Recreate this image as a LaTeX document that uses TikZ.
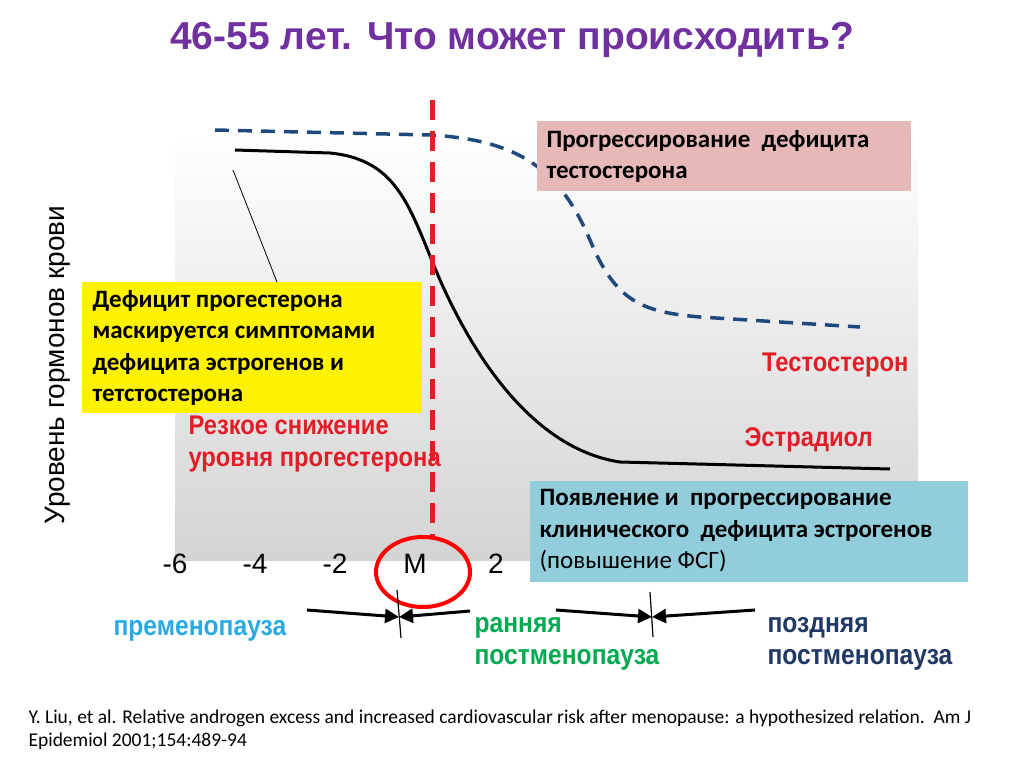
\documentclass[tikz,border=0pt]{standalone}
\usepackage{fontspec}
\setmainfont{Liberation Sans}
\newfontfamily\carlitofont{Carlito}
\newfontfamily\narrowfont[FakeStretch=0.88]{Liberation Sans}
\usetikzlibrary{arrows.meta}
\definecolor{ttl}{RGB}{112,48,160}
\definecolor{rd}{RGB}{225,30,40}
\definecolor{pnk}{RGB}{230,185,184}
\definecolor{lbl}{RGB}{146,205,220}
\definecolor{cy}{RGB}{41,170,226}
\definecolor{gr}{RGB}{0,170,80}
\definecolor{nv}{RGB}{31,56,100}
\definecolor{dsh}{RGB}{31,73,125}
\tikzset{
 box/.style={anchor=north west,inner sep=0pt},
 redlbl/.style={text=rd,font=\narrowfont\bfseries\fontsize{27}{32}\selectfont,align=left},
 phase/.style={font=\narrowfont\bfseries\fontsize{28}{32}\selectfont,align=left,anchor=west},
 arr/.style={line width=3pt,-{Triangle[length=14pt,width=14pt]}},
 tick/.style={font=\fontsize{28}{30}\selectfont,anchor=base}
}
\begin{document}
\begin{tikzpicture}[x=1pt,y=-1pt]
\useasboundingbox[fill=white] (0,0) rectangle (1024,768);
\node[text=ttl,font=\bfseries\fontsize{39}{42}\selectfont] (title) at (512,40) {46-55 лет. Что может происходить?};
\shade[top color=white,bottom color=black!17] (175,130) rectangle (918,560);
% curves
\draw[line width=3pt] (235,150) -- (330,153) .. controls (400,160) and (410,210) .. (440,280) .. controls (480,370) and (540,450) .. (620,462) -- (890,469);
\draw[dsh,line width=3.5pt,dash pattern=on 14pt off 9pt] (215,130) -- (430,135) .. controls (520,140) and (560,170) .. (590,240) .. controls (615,300) and (640,312) .. (700,317) -- (860,327);
\draw[rd,line width=5pt,dash pattern=on 20pt off 11pt] (432,100) -- (432,538);
% boxes
\node[box,fill=pnk,minimum width=374pt,minimum height=70pt] (pink) at (537,121) {};
\node[anchor=west,font=\carlitofont\bfseries\fontsize{25}{31}\selectfont,align=left] (pinkt) at (543,156) {Прогрессирование\ \ дефицита\\тестостерона};
\node[box,fill=yellow,minimum width=340pt,minimum height=131pt] (yel) at (82,282) {};
\node[anchor=west,font=\carlitofont\bfseries\fontsize{25}{31.5}\selectfont,align=left] (yelt) at (89,348) {Дефицит прогестерона\\маскируется симптомами\\дефицита эстрогенов и\\тетстостерона};
\coordinate (lt) at (233,170);
\coordinate (lb) at (277,282);
\draw[line width=0.8pt] (lt) -- (lb);
\node[box,fill=lbl,minimum width=438pt,minimum height=101pt] (blue) at (530,481) {};
\node[anchor=west,font=\carlitofont\fontsize{25}{31.5}\selectfont,align=left] (bluet) at (536,531) {\bfseries Появление и\ \ прогрессирование\\\bfseries клинического\ \ дефицита эстрогенов\\(повышение ФСГ)};
% red labels
\node[redlbl,anchor=west] (prog) at (185,444) {Резкое снижение\\уровня прогестерона};
\node[redlbl,anchor=east] (test) at (912,365) {Тестостерон};
\node[redlbl,anchor=west] (estr) at (741,440) {Эстрадиол};
% axis
\node[rotate=90,font=\fontsize{28}{30}\selectfont] (ylab) at (58,365) {Уровень гормонов крови};
\node[tick] (t1) at (175,573) {-6};
\node[tick] (t2) at (255,573) {-4};
\node[tick] (t3) at (335,573) {-2};
\node[tick] (t4) at (415,573) {M};
\node[tick] (t5) at (496,573) {2};
\draw[red,line width=4pt] (423,572) ellipse (47pt and 35pt);
% phase arrows
\coordinate (a1) at (307,610); \coordinate (b1) at (470,611);
\coordinate (m1) at (399,617);
\draw[arr] (a1) -- (m1);
\draw[arr] (b1) -- (m1);
\draw[line width=1.2pt] (397,590) -- (401,638);
\coordinate (a2) at (556,610); \coordinate (b2) at (755,610);
\coordinate (m2) at (652,617);
\draw[arr] (a2) -- (m2);
\draw[arr] (b2) -- (m2);
\draw[line width=1.2pt] (650,592) -- (653,637);
\node[phase,text=cy] (pre) at (110,631) {пременопауза};
\node[phase,text=gr,anchor=north west] (early) at (471,614) {ранняя\\постменопауза};
\node[phase,text=nv,anchor=north west] (late) at (764,614) {поздняя\\постменопауза};
\node[anchor=north west,font=\carlitofont\fontsize{19.5}{23}\selectfont,align=left] (ref) at (25,706) {Y. Liu, et al. Relative androgen excess and increased cardiovascular risk after menopause: a hypothesized relation.\ \ Am J\\Epidemiol 2001;154:489-94};
\end{tikzpicture}
\end{document}
